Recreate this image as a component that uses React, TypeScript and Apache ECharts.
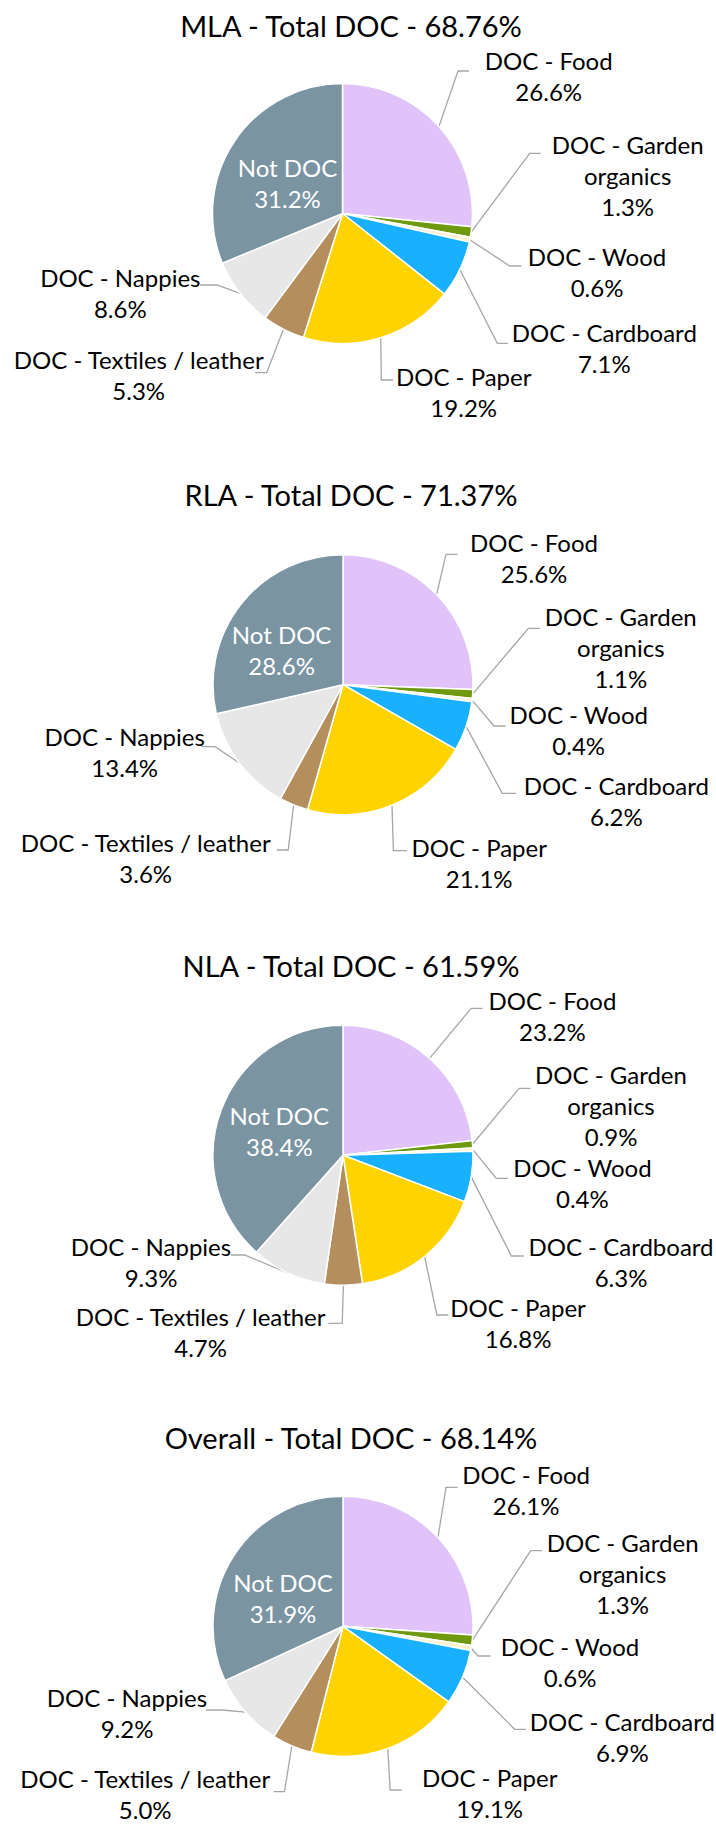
import React, { useEffect, useRef } from "react";
import * as echarts from "echarts";

const CATEGORIES = [
  "DOC - Food",
  "DOC - Garden organics",
  "DOC - Wood",
  "DOC - Cardboard",
  "DOC - Paper",
  "DOC - Textiles / leather",
  "DOC - Nappies",
  "Not DOC",
];
const LABEL_TEXT = [
  "DOC - Food",
  "DOC - Garden\norganics",
  "DOC - Wood",
  "DOC - Cardboard",
  "DOC - Paper",
  "DOC - Textiles / leather",
  "DOC - Nappies",
  "Not DOC",
];
const COLORS = ["#E1C3F9", "#6F9A0F", "#FFF2CC", "#19B1FE", "#FFD300", "#B58E5E", "#E7E7E7", "#7A94A2"];

const TITLES = [
  "MLA - Total DOC - 68.76%",
  "RLA - Total DOC - 71.37%",
  "NLA - Total DOC - 61.59%",
  "Overall - Total DOC - 68.14%",
];

const MLA = [26.6, 1.3, 0.6, 7.1, 19.2, 5.3, 8.6, 31.2];
const RLA = [25.6, 1.1, 0.4, 6.2, 21.1, 3.6, 13.4, 28.6];
const NLA = [23.2, 0.9, 0.4, 6.3, 16.8, 4.7, 9.3, 38.4];
const OVERALL = [26.1, 1.3, 0.6, 6.9, 19.1, 5.0, 9.2, 31.9];

const SERIES_VALUES = [MLA, RLA, NLA, OVERALL];

// layout (styles): pie centres, title positions, label offsets relative to the pie centre
const PIE_CENTERS = [
  [342.5, 213.5],
  [343, 684.7],
  [343, 1155.3],
  [343, 1626.3],
];
const TITLE_TOPS = [3, 472, 943, 1415];
// [labelX, labelY, elbowX, elbowY, endX]
const LABEL_LAYOUTS = [
  [
    [206.2, -137.2, 115.5, -142.5, 126.5],
    [285.2, -37.8, 187.2, -60.2, 198.2],
    [254.5, 58.9, 167.2, 52.5, 178.8],
    [261.8, 134.7, 154.8, 129.8, 165.5],
    [121.2, 178.9, 38.8, 166.5, 50.5],
    [-203.8, 161, -75.8, 159.2, -87.5],
    [-222.2, 79, -125.5, 71.5, -142.5],
    [-55, -31],
  ],
  [
    [191, -126.9, 103, -130.4, 114.5],
    [277.8, -37.3, 185.4, -56.4, 196.8],
    [235.7, 45.1, 151, 41.3, 162.5],
    [273.4, 116, 159.3, 108.6, 173],
    [136.2, 178, 50.4, 166, 64],
    [-197.3, 173.1, -54.8, 165.3, -66.2],
    [-218.3, 67.3, -128, 62, -141.7],
    [-61.4, -34.4],
  ],
  [
    [209.4, -139.6, 128.2, -147, 139.6],
    [268, -50.1, 176.2, -67, 187.7],
    [239.4, 27.4, 153.3, 23, 164.8],
    [278, 106.7, 168.4, 100.7, 180.8],
    [175.1, 167.4, 93.9, 159.7, 105.3],
    [-142.4, 177, -0.8, 168, -14.5],
    [-192, 106.7, -98.3, 99.7, -112],
    [-63.7, -24.1],
  ],
  [
    [183.1, -136, 103, -139, 114.5],
    [279.6, -52.5, 187.7, -75.6, 199.1],
    [227, 36, 135, 29.7, 147.4],
    [279.4, 111, 171.6, 103, 183],
    [146.7, 167, 47.2, 163.7, 58.6],
    [-197.8, 168, -58.5, 165.4, -69.4],
    [-216, 86.9, -121.1, 83.7, -137.1],
    [-60, -28.5],
  ],
];

const FONT = "Lato";
const RADIUS = 130;

export default function App() {
  const ref = useRef<HTMLDivElement>(null);

  useEffect(() => {
    if (!ref.current) return;
    const chart = echarts.init(ref.current, null, { renderer: "svg" });

    const title = TITLES.map((t, i) => ({
      text: t,
      left: 346,
      top: TITLE_TOPS[i],
      textAlign: "center",
      textStyle: {
        fontFamily: FONT,
        fontSize: 29,
        fontWeight: "normal",
        color: "#000",
        lineHeight: 34,
      },
    }));

    const series = SERIES_VALUES.map((vals, si) => {
      const [cx, cy] = PIE_CENTERS[si];
      const layouts = LABEL_LAYOUTS[si];
      return {
        type: "pie",
        center: [cx, cy],
        radius: RADIUS,
        startAngle: 90,
        clockwise: true,
        avoidLabelOverlap: false,
        itemStyle: { borderColor: "#ffffff", borderWidth: 1.5 },
        emphasis: { disabled: true },
        label: {
          show: true,
          position: "outside",
          fontFamily: FONT,
          fontSize: 24,
          lineHeight: 31,
          color: "#000",
          align: "center",
          formatter: (p: any) => `${LABEL_TEXT[p.dataIndex]}\n${Number(p.value).toFixed(1)}%`,
        },
        labelLine: {
          show: true,
          length: 10,
          length2: 10,
          smooth: false,
          lineStyle: { color: "#A6A6A6", width: 1.3 },
        },
        labelLayout: (p: any) => {
          const L = layouts[p.dataIndex];
          const res: any = {
            x: cx + L[0],
            y: cy + L[1],
            align: "center",
            verticalAlign: "middle",
          };
          if (L.length > 2 && p.labelLinePoints && p.labelLinePoints[0]) {
            const a = p.labelLinePoints[0];
            res.labelLinePoints = [
              [a[0], a[1]],
              [cx + L[2], cy + L[3]],
              [cx + L[4], cy + L[3]],
            ];
          }
          return res;
        },
        data: vals.map((v, i) => ({
          name: CATEGORIES[i],
          value: v,
          itemStyle: { color: COLORS[i] },
          ...(i === 7
            ? { label: { color: "#ffffff" }, labelLine: { show: false } }
            : {}),
        })),
      };
    });

    chart.setOption({
      animation: false,
      backgroundColor: "#ffffff",
      title,
      series,
    } as any);

    return () => chart.dispose();
  }, []);

  return (
    <div
      ref={ref}
      style={{ position: "absolute", left: 0, top: 0, width: 716, height: 1825, background: "#fff" }}
    />
  );
}
